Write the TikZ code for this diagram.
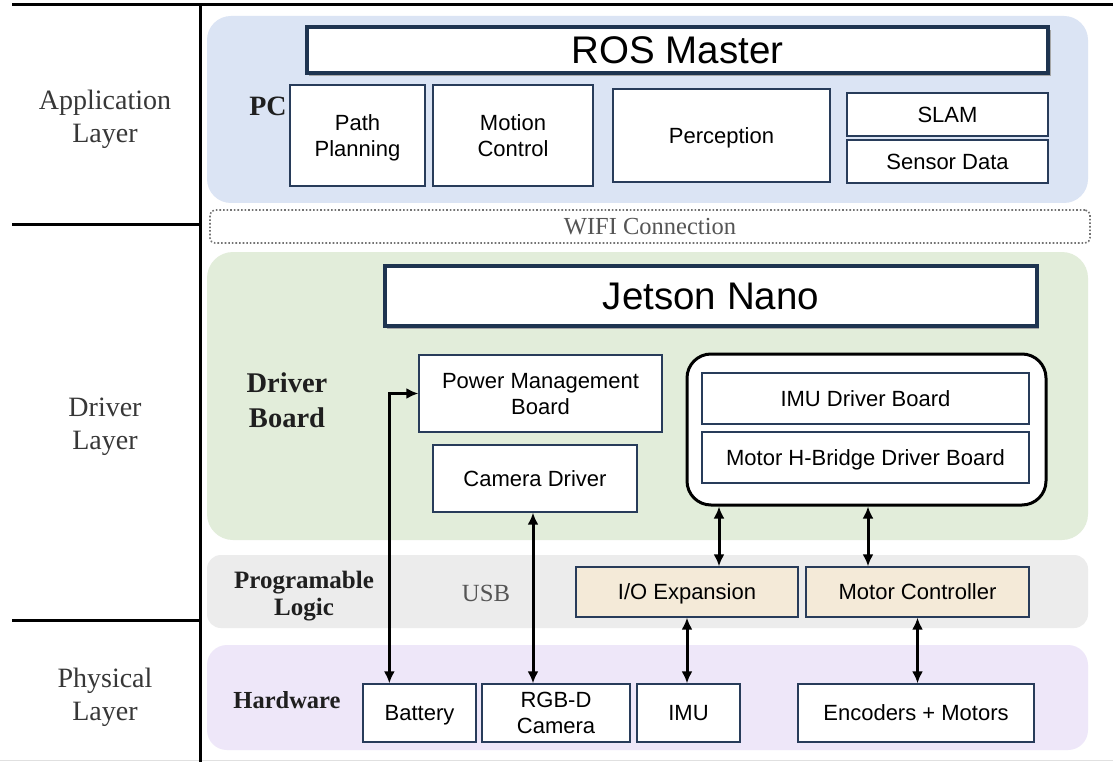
\documentclass[tikz,border=0pt]{standalone}
\usepackage{fontspec}
\setmainfont{Liberation Serif}
\newfontfamily\arialf{Liberation Sans}
\usetikzlibrary{arrows.meta}
\definecolor{bandblue}{RGB}{219,228,244}
\definecolor{bandgreen}{RGB}{226,237,218}
\definecolor{bandgray}{RGB}{236,236,236}
\definecolor{bandpurple}{RGB}{238,231,249}
\definecolor{beige}{RGB}{244,234,216}
\definecolor{navy}{RGB}{30,52,80}
\definecolor{boxline}{RGB}{40,60,90}
\definecolor{labgray}{RGB}{55,55,55}
\definecolor{wifigray}{RGB}{85,85,85}
\begin{document}
\begin{tikzpicture}[x=1pt,y=-1pt,
  band/.style={draw=none, inner sep=0pt},
  box/.style={draw=boxline, line width=1.3pt, fill=white, inner sep=0pt, align=center, text depth=0pt, font=\arialf\fontsize{22}{26}\selectfont},
  bigbox/.style={draw=navy, line width=4.5pt, fill=white, inner sep=0pt, font=\arialf\fontsize{38.5}{44}\selectfont},
  layerlab/.style={align=center, text=labgray, font=\fontsize{28}{33}\selectfont},
  boldlab/.style={align=center, text=black!88, font=\bfseries\fontsize{27}{35}\selectfont},
  seplink/.style={line width=3pt, black},
  arr/.style={line width=3pt, {Latex[length=12pt,width=11pt]}-{Latex[length=12pt,width=11pt]}}
]
\useasboundingbox (0,0) rectangle (1113,762);
\fill[white] (0,0) rectangle (1113,762);

% layer frame
\draw[black!12, line width=1.5pt] (0,760.5) -- (1113,760.5);
\draw[seplink] (12,5) -- (1113,5);
\draw[seplink] (200,5) -- (200,762);
\draw[seplink] (12,224) -- (200,224);
\draw[seplink] (12,620) -- (200,620);

\node[layerlab] (applab) at (105,119) {Application\\Layer};
\node[layerlab] (drvlab) at (105,427) {Driver\\Layer};
\node[layerlab] (phylab) at (105,697) {Physical\\Layer};

% bands
\node[band, fill=bandblue, rounded corners=24pt, minimum width=881pt, minimum height=187pt] (appband) at (647.5,109.5) {};
\node[band, fill=bandgreen, rounded corners=26pt, minimum width=881pt, minimum height=288pt] (drvband) at (647.5,396) {};
\node[band, fill=bandgray, rounded corners=14pt, minimum width=881pt, minimum height=73pt] (plband) at (647.5,591.5) {};
\node[band, fill=bandpurple, rounded corners=20pt, minimum width=881pt, minimum height=105pt] (hwband) at (647.5,697.5) {};

% application layer
\fill[black!35] (309,30) rectangle (1051,76);
\node[bigbox, minimum width=741pt, minimum height=46pt] (ros) at (677.5,50) {ROS Master};
\node[boldlab, font=\bfseries\fontsize{28}{34}\selectfont] (pc) at (268,106) {PC};
\node[box, minimum width=135pt, minimum height=101pt] (pp) at (357.5,135.5) {Path\\Planning};
\node[box, minimum width=160pt, minimum height=101pt] (mctl) at (513,135.5) {Motion\\Control};
\node[box, minimum width=217pt, minimum height=93pt] (perc) at (721.5,135.5) {Perception};
\node[box, minimum width=201pt, minimum height=43pt] (slam) at (947.5,114.5) {SLAM};
\node[box, minimum width=201pt, minimum height=43pt] (sens) at (947.5,161.5) {Sensor Data};

% wifi
\node[draw=black!55, dotted, line width=1.6pt, rounded corners=5pt, minimum width=880pt, minimum height=33pt, inner sep=0pt,
      text=wifigray, font=\fontsize{24.5}{28}\selectfont] (wifi) at (650,226.5) {WIFI Connection};

% driver layer
\fill[black!35] (387,269) rectangle (1039,329);
\node[bigbox, minimum width=652pt, minimum height=60pt] (jet) at (711,296) {Jetson Nano};
\node[boldlab, font=\bfseries\fontsize{28.5}{35}\selectfont] (dboard) at (287,400) {Driver\\Board};
\node[box, minimum width=243pt, minimum height=77pt] (pmb) at (540.5,393.5) {Power Management\\Board};
\node[box, minimum width=204pt, minimum height=67pt] (camdrv) at (535,478.5) {Camera Driver};
\node[draw=black, line width=3pt, fill=white, rounded corners=24pt, minimum width=359pt, minimum height=151pt, inner sep=0pt] (grp) at (866.5,429.5) {};
\node[box, minimum width=327pt, minimum height=51pt] (imudrv) at (865.5,398.5) {IMU Driver Board};
\node[box, minimum width=327pt, minimum height=51pt] (hbr) at (865.5,457.5) {Motor H-Bridge Driver Board};

% programmable logic
\node[boldlab, font=\bfseries\fontsize{25}{27}\selectfont] (plab) at (304,596) {Programable\\Logic};
\node[text=wifigray, font=\fontsize{24.7}{28}\selectfont] (usb) at (486,593) {USB};
\node[box, fill=beige, minimum width=222pt, minimum height=50pt] (io) at (687,592) {I/O Expansion};
\node[box, fill=beige, minimum width=223pt, minimum height=50pt] (mc) at (917.5,592) {Motor Controller};

% hardware
\node[boldlab, font=\bfseries\fontsize{24.5}{28}\selectfont] (hwlab) at (287,700) {Hardware};
\node[box, minimum width=113pt, minimum height=58pt] (bat) at (419.5,713) {Battery};
\node[box, minimum width=148pt, minimum height=58pt] (rgbd) at (556,713) {RGB-D\\Camera};
\node[box, minimum width=103pt, minimum height=58pt] (imu) at (688.5,713) {IMU};
\node[box, minimum width=236pt, minimum height=58pt] (enc) at (916,713) {Encoders + Motors};

% connectors
\coordinate (batA) at ([xshift=27pt]bat.north west);
\draw[arr] (batA) |- (pmb.west);
\coordinate (camA) at ([xshift=-2pt]camdrv.south);
\draw[arr] (camA) -- (camA |- rgbd.north);
\coordinate (ioA) at ([xshift=32pt]io.north);
\draw[arr] (ioA) -- (ioA |- grp.south);
\coordinate (mcA) at ([xshift=-49.5pt]mc.north);
\draw[arr] (mcA) -- (mcA |- grp.south);
\draw[arr] (io.south) -- (io.south |- imu.north);
\draw[arr] (mc.south) -- (mc.south |- enc.north);
\end{tikzpicture}
\end{document}
